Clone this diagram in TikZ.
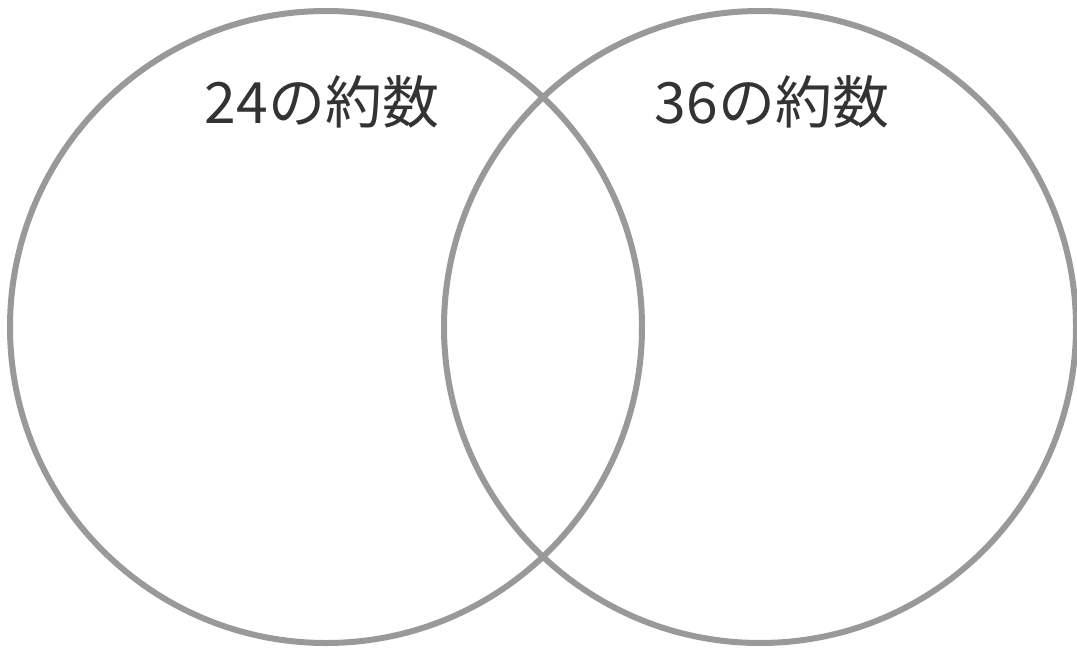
\documentclass[tikz,border=0pt]{standalone}
\usepackage{fontspec}
\newfontfamily\cjk{Noto Sans CJK JP}
\usetikzlibrary{positioning}

\begin{document}
\begin{tikzpicture}[x=1pt, y=-1pt]
    \tikzset{SetStyle/.style = {circle, draw=black!40, line width=6pt, minimum size=632pt, inner sep=0pt}}
    \tikzset{LabelStyle/.style = {font=\cjk\fontsize{57}{60}\selectfont, text=black!80}}
    \useasboundingbox (0,0) rectangle (1077,651);
    \node[SetStyle](A) at (326,327){};
    \node[SetStyle](B) at (760,327){};
    \node[LabelStyle](LA) at (322,102){24の約数};
    \node[LabelStyle](LB) at (772,102){36の約数};
\end{tikzpicture}
\end{document}
